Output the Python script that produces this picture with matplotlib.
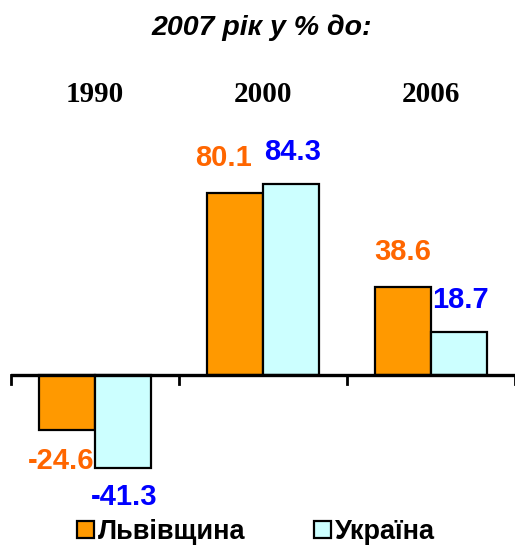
import matplotlib.pyplot as plt
import numpy as np

# Data
years = ["1990", "2000", "2006"]
lviv = [-24.6, 80.1, 38.6]
ukraine = [-41.3, 84.3, 18.7]
series_names = ["Львівщина", "Україна"]

orange = "#FF9900"
cyan = "#CCFFFF"
lbl_orange = "#FF6600"
lbl_blue = "#0000FF"

fig = plt.figure(figsize=(5.15, 5.47), dpi=100)
# axes spans pixel x 11..515, zero line at pixel y ~376
ax = fig.add_axes([11 / 515, 1 - 488 / 547, 504 / 515, 340 / 547])
ax.set_xlim(-0.5, 2.5)
ax.set_ylim(-50, 100)

x = np.arange(len(years))
w = 0.335
b1 = ax.bar(x - w / 2, lviv, w, color=orange, edgecolor="black", linewidth=1.6, zorder=2)
b2 = ax.bar(x + w / 2, ukraine, w, color=cyan, edgecolor="black", linewidth=1.6, zorder=2)

# zero axis line with downward tick marks at category boundaries
ax.axhline(0, color="black", linewidth=2.4, zorder=3)
for xb in [-0.5, 0.5, 1.5, 2.5]:
    ax.plot([xb, xb], [0, -4.2], color="black", linewidth=2.0, zorder=3, clip_on=False)

font_lbl = dict(fontsize=21, fontweight="bold", family="Liberation Sans")
dx1 = [-4, -8, 0]
for i, v in enumerate(lviv):
    off = 25 if v >= 0 else -22
    ax.annotate(f"{v}", (x[i] - w / 2, v), xytext=(dx1[i], off), textcoords="offset points",
                ha="center", va="center", color=lbl_orange, **font_lbl)
for i, v in enumerate(ukraine):
    off = 23 if v >= 0 else -21
    ax.annotate(f"{v}", (x[i] + w / 2, v), xytext=(1, off), textcoords="offset points",
                ha="center", va="center", color=lbl_blue, **font_lbl)

# category labels above the plot
for i, yr in enumerate(years):
    xf = ax.transData.transform((x[i], 0))[0] / fig.bbox.width
    fig.text(xf, 1 - 94 / 547, yr, ha="center", va="center",
             fontsize=21, fontweight="bold", family="Liberation Serif")

for s in ax.spines.values():
    s.set_visible(False)
ax.set_xticks([])
ax.set_yticks([])
ax.patch.set_alpha(0)

fig.text(262 / 515, 1 - 28 / 547, "2007 рік у % до:", ha="center", va="center",
         fontsize=20.5, fontweight="bold", fontstyle="italic", family="Liberation Sans")

leg = fig.legend([b1, b2], series_names, loc="center", bbox_to_anchor=(256 / 515, 1 - 532 / 547),
                 ncol=2, frameon=False, handlelength=0.6, handleheight=0.6, handletextpad=0.15,
                 columnspacing=2.55, borderpad=0, prop=dict(size=19.5, weight="bold", family="Liberation Sans"))

fig.savefig("out.png", dpi=100)
